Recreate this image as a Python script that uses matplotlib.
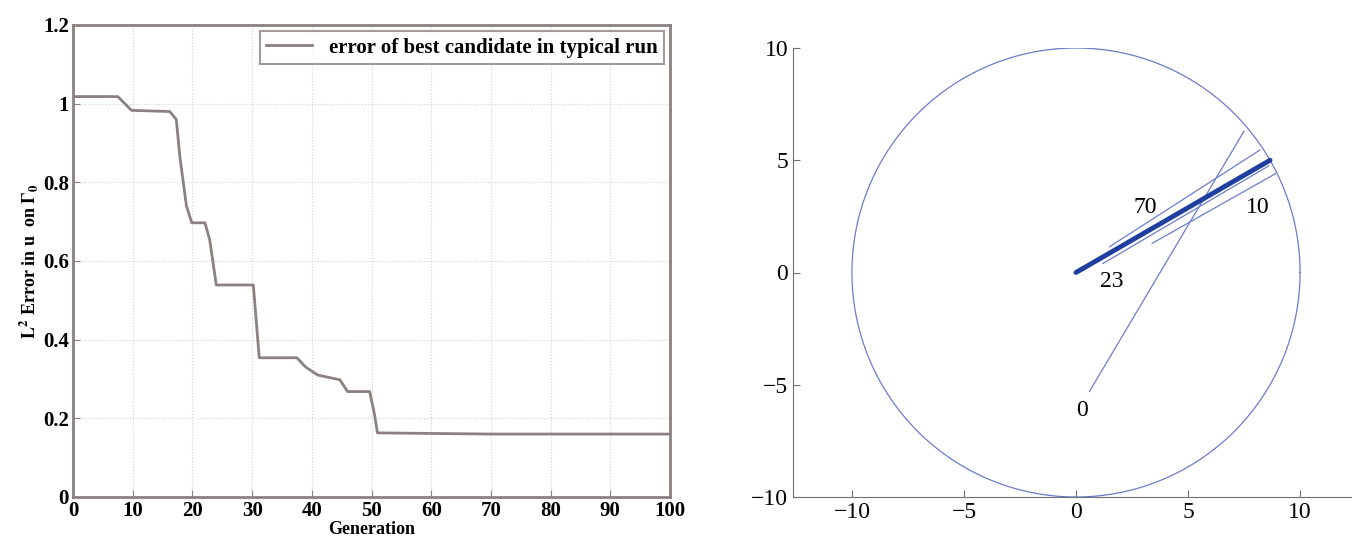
import numpy as np
import matplotlib.pyplot as plt

plt.rcParams['font.family'] = ['Liberation Serif', 'DejaVu Serif']
plt.rcParams['mathtext.fontset'] = 'stix'

# left panel: error of best candidate per generation
generation = [0, 7.5, 9.8, 16.2, 17.3, 17.9, 19.0, 19.9, 22.1, 22.9, 24.0,
              30.2, 31.2, 37.5, 39.0, 41.0, 44.7, 46.0, 49.7, 50.5, 51.0, 70, 100]
error = [1.018, 1.018, 0.983, 0.980, 0.960, 0.865, 0.740, 0.697, 0.697, 0.654, 0.539,
         0.539, 0.354, 0.354, 0.330, 0.310, 0.298, 0.268, 0.268, 0.210, 0.163, 0.160, 0.160]

# right panel: candidate segments at selected generations
seg_labels = ['0', '10', '23', '70']
seg_start = [(0.6, -5.3), (3.4, 1.3), (1.2, 0.4), (1.5, 1.15)]
seg_end = [(7.5, 6.3), (8.9, 4.4), (8.6, 4.75), (8.2, 5.45)]
label_pos = [(0.27, -6.15), (8.1, 2.9), (1.6, -0.4), (3.1, 2.9)]
true_start = (0.0, 0.0)
true_end = (8.66, 5.0)
radius = 10

fig = plt.figure(figsize=(13.52, 5.46), dpi=100)

# ---- left plot
ax1 = fig.add_axes([73 / 1352, 1 - 497 / 546, (670 - 73) / 1352, (497 - 25) / 546])
ax1.plot(generation, error, color='#8c8080', lw=2,
         label='error of best candidate in typical run')
ax1.set_xlim(0, 100)
ax1.set_ylim(0, 1.2)
ax1.set_xticks(range(0, 101, 10))
ax1.set_yticks([0, 0.2, 0.4, 0.6, 0.8, 1, 1.2])
ax1.set_yticklabels(['0', '0.2', '0.4', '0.6', '0.8', '1', '1.2'])
ax1.grid(True, linestyle=':', color='#d0d0d0', lw=0.8)
for s in ax1.spines.values():
    s.set_color('#8c8080')
    s.set_linewidth(2)
ax1.tick_params(direction='in', length=5, color='#8c8080', labelsize=15, pad=3)
for lab in ax1.get_xticklabels() + ax1.get_yticklabels():
    lab.set_fontweight('bold')
ax1.set_xlabel('Generation', fontsize=13, fontweight='bold', labelpad=0)
ax1.set_ylabel(r'$\mathbf{L^2}$ Error in u  on $\mathbf{\Gamma_0}$', fontsize=13,
               fontweight='bold', labelpad=2)
leg = ax1.legend(loc='upper right', fontsize=15, frameon=True, fancybox=False,
                 handlelength=2.2, borderaxespad=0.3, borderpad=0.3)
leg.get_frame().set_edgecolor('#8c8080')
leg.get_frame().set_linewidth(1.5)
for t in leg.get_texts():
    t.set_fontweight('bold')

# ---- right plot
ax2 = fig.add_axes([793 / 1352, 1 - 497 / 546, (1359 - 793) / 1352, (497 - 48) / 546])
theta = np.linspace(0, 2 * np.pi, 400)
ax2.plot(radius * np.cos(theta), radius * np.sin(theta), color='#6a7ccc', lw=0.9)
for lab, p0, p1, lp in zip(seg_labels, seg_start, seg_end, label_pos):
    ax2.plot([p0[0], p1[0]], [p0[1], p1[1]], color='#6a7ccc', lw=0.9)
    ax2.text(lp[0], lp[1], lab, fontsize=17, ha='center', va='center')
ax2.plot([true_start[0], true_end[0]], [true_start[1], true_end[1]],
         color='#1f3fa0', lw=3.5, solid_capstyle='round')
ax2.set_xlim(-12.63, 12.63)
ax2.set_ylim(-10, 10)
ax2.set_xticks([-10, -5, 0, 5, 10])
ax2.set_yticks([-10, -5, 0, 5, 10])
ax2.set_xticklabels(['\u221210', '\u22125', '0', '5', '10'])
ax2.set_yticklabels(['\u221210', '\u22125', '0', '5', '10'])
ax2.spines['top'].set_visible(False)
ax2.spines['right'].set_visible(False)
for s in ['left', 'bottom']:
    ax2.spines[s].set_color('#707070')
ax2.tick_params(direction='in', length=5, color='#707070', labelsize=17)

fig.savefig('out.png', dpi=100)
